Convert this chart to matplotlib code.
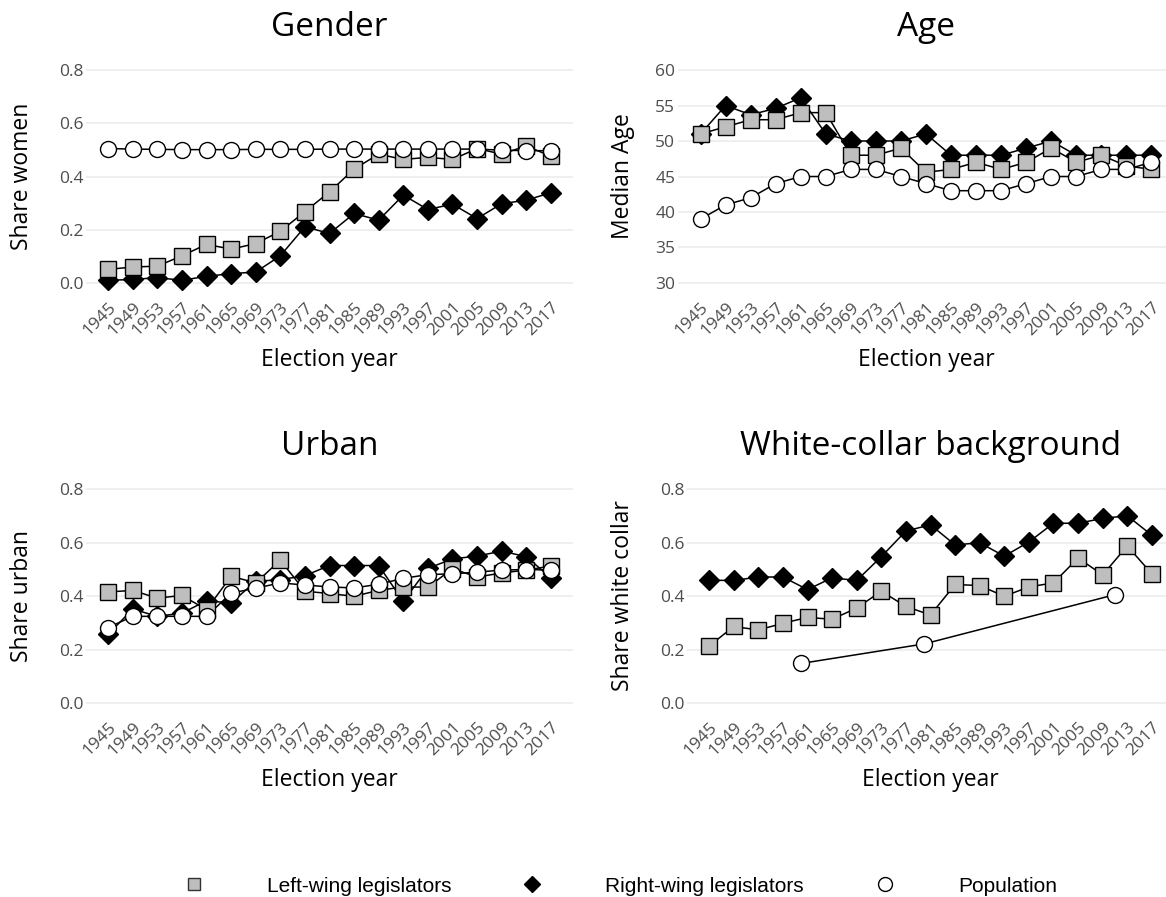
import matplotlib.pyplot as plt
from matplotlib.lines import Line2D

plt.rcParams['font.family'] = ['Open Sans', 'DejaVu Sans']

years = [1945, 1949, 1953, 1957, 1961, 1965, 1969, 1973, 1977, 1981,
         1985, 1989, 1993, 1997, 2001, 2005, 2009, 2013, 2017]
census_years = [1960, 1980, 2011]

gender_left = [0.051, 0.060, 0.063, 0.102, 0.145, 0.127, 0.148, 0.194, 0.268, 0.342,
               0.428, 0.484, 0.464, 0.472, 0.464, 0.505, 0.484, 0.515, 0.476]
gender_right = [0.010, 0.013, 0.020, 0.010, 0.025, 0.035, 0.041, 0.102, 0.211, 0.186,
                0.261, 0.236, 0.330, 0.276, 0.296, 0.242, 0.298, 0.311, 0.339]
gender_pop = [0.505, 0.503, 0.502, 0.501, 0.501, 0.501, 0.502, 0.502, 0.502, 0.503,
              0.503, 0.503, 0.503, 0.503, 0.503, 0.503, 0.499, 0.497, 0.497]

age_left = [51, 52, 53, 53, 54, 54, 48, 48, 49, 45.6,
            46, 47, 46, 47, 49, 47, 48, 46.5, 46]
age_right = [51, 55, 53.7, 54.6, 56.1, 51, 50, 50, 50, 51,
             48, 48, 48, 49, 50, 48, 48, 48, 48]
age_pop = [39, 41, 42, 44, 45, 45, 46, 46, 45, 44,
           43, 43, 43, 44, 45, 45, 46, 46, 47]

urban_left = [0.415, 0.421, 0.392, 0.402, 0.349, 0.474, 0.449, 0.534, 0.418, 0.409,
              0.399, 0.421, 0.434, 0.433, 0.502, 0.471, 0.486, 0.497, 0.512]
urban_right = [0.257, 0.351, 0.324, 0.336, 0.382, 0.374, 0.455, 0.461, 0.476, 0.514,
               0.514, 0.514, 0.380, 0.503, 0.539, 0.549, 0.568, 0.547, 0.468]
urban_pop = [0.282, 0.324, 0.324, 0.324, 0.324, 0.411, 0.429, 0.449, 0.441, 0.434,
             0.430, 0.444, 0.466, 0.480, 0.483, 0.489, 0.497, 0.499, 0.497]

white_left = [0.213, 0.286, 0.273, 0.298, 0.320, 0.313, 0.355, 0.418, 0.361, 0.329,
              0.443, 0.439, 0.399, 0.434, 0.449, 0.542, 0.479, 0.587, 0.483]
white_right = [0.459, 0.458, 0.471, 0.471, 0.424, 0.468, 0.458, 0.547, 0.643, 0.666,
               0.591, 0.599, 0.549, 0.602, 0.672, 0.672, 0.690, 0.700, 0.627]
white_pop = [0.148, 0.221, 0.405]

share_ticks = [0.0, 0.2, 0.4, 0.6, 0.8]
share_labels = ['0.0', '0.2', '0.4', '0.6', '0.8']
age_ticks = [30, 35, 40, 45, 50, 55, 60]
age_labels = ['30', '35', '40', '45', '50', '55', '60']

W, H = 1166, 897
fig = plt.figure(figsize=(W / 100, H / 100), dpi=100)

left_kw = dict(marker='s', ms=11, mfc='#bebebe', mec='black', mew=1.0, ls='none', zorder=4)
right_kw = dict(marker='D', ms=10, mfc='black', mec='black', mew=1.0, ls='none', zorder=3)
pop_kw = dict(marker='o', ms=11.5, mfc='white', mec='black', mew=1.0, ls='none', zorder=5)


# x0, y0, x1, y1 are the panel edges in pixels from the top-left corner
def panel(x0, y0, x1, y1, ylab_x, title, ylabel, lo, hi, ticks, labels,
          left, right, pop_x, pop):
    w, h = x1 - x0, y1 - y0
    ax = fig.add_axes([x0 / W, 1 - y1 / H, w / W, h / H])
    pad = (hi - lo) * 0.05
    ax.set_ylim(lo - pad, hi + pad)
    ax.set_xlim(1945 - 3.6, 2017 + 3.6)

    # lines underneath, then the points
    for xs, ys in [(years, right), (years, left), (pop_x, pop)]:
        ax.plot(xs, ys, color='black', lw=1.1, zorder=2)
    ax.plot(years, right, **right_kw)
    ax.plot(years, left, **left_kw)
    ax.plot(pop_x, pop, **pop_kw)

    ax.set_yticks(ticks)
    ax.set_yticklabels(labels)
    ax.set_xticks(years)
    ax.set_xticklabels([str(y) for y in years], rotation=45, ha='right', va='top',
                       rotation_mode='anchor')
    ax.tick_params(length=0, labelsize=12.5, labelcolor='#4d4d4d')
    ax.tick_params(axis='y', pad=2)
    ax.tick_params(axis='x', pad=4)
    ax.grid(axis='y', color='#ebebeb', lw=1.1)
    ax.set_axisbelow(True)
    for s in ax.spines.values():
        s.set_visible(False)

    ax.text(0.5, 1 + 31.5 / h, title, transform=ax.transAxes,
            ha='center', va='center', fontsize=24, color='black')
    ax.text(0.5, -66.5 / h, 'Election year', transform=ax.transAxes,
            ha='center', va='center', fontsize=16.5)
    ax.text((ylab_x - x0) / w, 0.5, ylabel, transform=ax.transAxes,
            ha='center', va='center', rotation=90, fontsize=16.5)
    return ax


panel(86, 59.4, 573, 293.6, 22, 'Gender', 'Share women', 0, 0.8,
      share_ticks, share_labels, gender_left, gender_right, years, gender_pop)
panel(678, 59.4, 1174, 293.6, 623, 'Age', 'Median Age', 30, 60,
      age_ticks, age_labels, age_left, age_right, years, age_pop)
panel(86, 478.3, 573, 713.7, 22, 'Urban', 'Share urban', 0, 0.8,
      share_ticks, share_labels, urban_left, urban_right, years, urban_pop)
panel(687, 478.3, 1174, 713.7, 623, 'White-collar background', 'Share white collar', 0, 0.8,
      share_ticks, share_labels, white_left, white_right, census_years, white_pop)

handles = [
    Line2D([], [], marker='s', ms=9, mfc='#bebebe', mec='#333333', mew=1.0, ls='none'),
    Line2D([], [], marker='D', ms=8.5, mfc='black', mec='black', ls='none'),
    Line2D([], [], marker='o', ms=10, mfc='white', mec='black', mew=1.0, ls='none'),
]
fig.legend(handles, ['Left-wing legislators', 'Right-wing legislators', 'Population'],
           loc='center', bbox_to_anchor=(615 / W, 1 - 886 / H), ncol=3, frameon=False,
           prop={'family': 'Liberation Sans', 'size': 15}, handlelength=2,
           handletextpad=2.5, columnspacing=2.9, borderpad=0)

fig.savefig('out.png', dpi=100)
